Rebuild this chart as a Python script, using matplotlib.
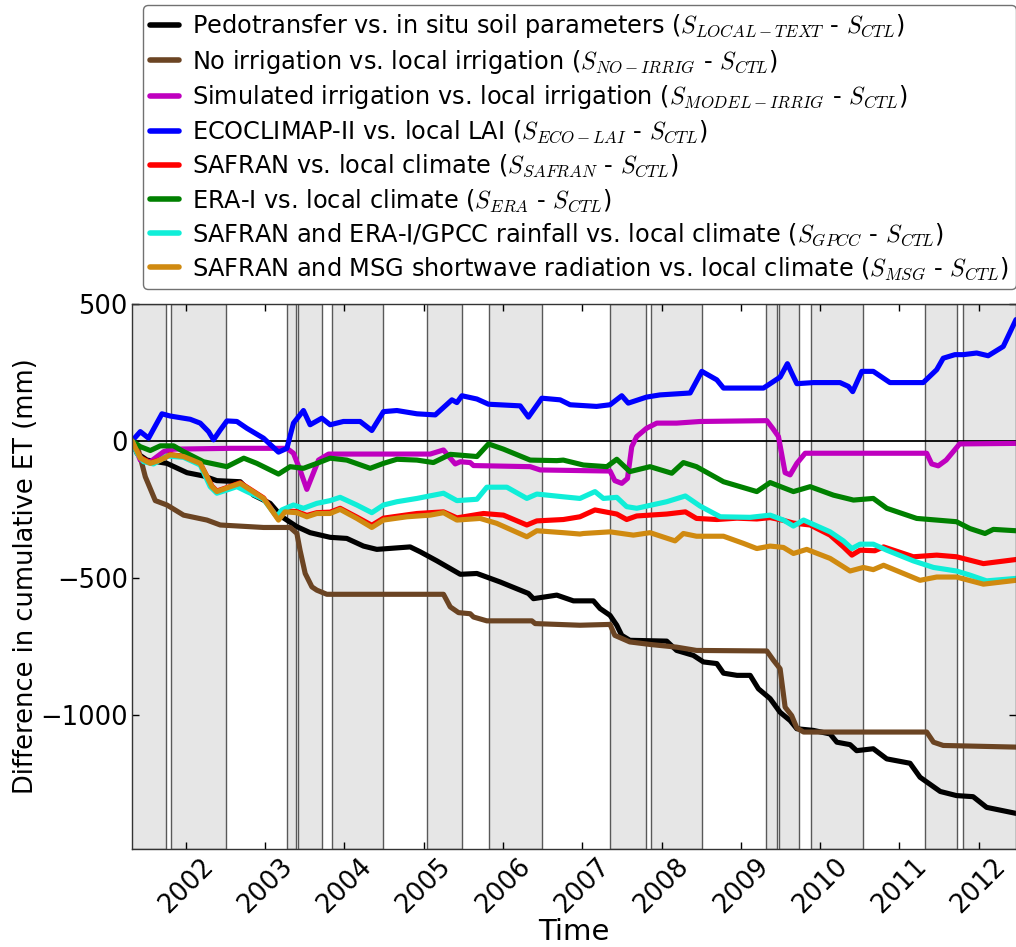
import matplotlib
matplotlib.use("Agg")
import matplotlib.pyplot as plt
import numpy as np
import pandas as pd

plt.rcParams['font.family'] = ['DejaVu Sans']
plt.rcParams['mathtext.fontset'] = 'cm'

# ---------------- data (decimal years, mm) ----------------
t_text = [2001.32, 2001.382, 2001.508, 2001.76, 2002.013, 2002.222, 2002.39, 2002.685, 2002.853, 2003.063,
          2003.21, 2003.40, 2003.567, 2003.82, 2004.03, 2004.24, 2004.408, 2004.828, 2004.955, 2005.165,
          2005.46, 2005.67, 2005.963, 2006.09, 2006.32, 2006.383, 2006.678, 2006.888, 2007.14, 2007.224,
          2007.35, 2007.435, 2007.498, 2007.60, 2008.065, 2008.19, 2008.40, 2008.527, 2008.696, 2008.78,
          2008.95, 2009.116, 2009.22, 2009.368, 2009.494, 2009.62, 2009.705, 2009.914, 2010.125, 2010.21,
          2010.377, 2010.46, 2010.67, 2010.84, 2011.134, 2011.26, 2011.515, 2011.72, 2011.93, 2012.10, 2012.47]
v_text = [0, -45, -70, -82, -116, -128, -145, -149, -198, -228,
          -277, -313, -335, -352, -356, -384, -396, -387, -405, -438,
          -487, -484, -515, -530, -557, -576, -563, -584, -584, -612,
          -637, -673, -710, -728, -731, -765, -783, -807, -813, -848,
          -856, -856, -905, -941, -991, -1021, -1051, -1057, -1070, -1100,
          -1109, -1131, -1124, -1161, -1177, -1228, -1280, -1295, -1299, -1338, -1360]

t_noirr = [2001.32, 2001.40, 2001.487, 2001.613, 2001.76, 2001.97, 2002.265, 2002.433, 2002.979, 2003.315,
           2003.40, 2003.44, 2003.505, 2003.59, 2003.652, 2003.778, 2005.248, 2005.333, 2005.438, 2005.585,
           2005.627, 2005.795, 2006.363, 2006.405, 2006.97, 2007.35, 2007.41, 2007.60, 2007.85, 2008.19,
           2008.44, 2009.326, 2009.41, 2009.494, 2009.557, 2009.64, 2009.705, 2009.79, 2011.344, 2011.43,
           2011.553, 2012.47]
v_noirr = [0, -33, -131, -218, -234, -271, -289, -307, -316, -316,
           -338, -399, -484, -533, -545, -560, -560, -606, -627, -631,
           -643, -657, -657, -667, -673, -670, -710, -734, -743, -753,
           -765, -767, -801, -832, -972, -1003, -1048, -1063, -1063, -1100,
           -1112, -1118]

t_model = [2001.32, 2001.424, 2001.55, 2001.72, 2001.844, 2002.56, 2003.274, 2003.357, 2003.44, 2003.526,
           2003.589, 2003.673, 2003.80, 2005.08, 2005.248, 2005.333, 2005.396, 2005.46, 2005.585, 2005.627,
           2006.342, 2006.468, 2007.35, 2007.41, 2007.498, 2007.57, 2007.624, 2007.687, 2007.81, 2007.94,
           2008.19, 2008.486, 2009.326, 2009.40, 2009.473, 2009.557, 2009.62, 2009.705, 2009.81, 2011.344,
           2011.407, 2011.49, 2011.59, 2011.76, 2012.47]
v_model = [0, -70, -76, -39, -30, -27, -27, -45, -106, -177,
           -131, -70, -48, -48, -33, -63, -84, -76, -79, -90,
           -94, -106, -110, -145, -155, -137, -21, 16, 46, 65,
           65, 71, 74, 46, 16, -116, -124, -82, -45, -45,
           -84, -91, -70, -11, -9]

t_lai = [2001.32, 2001.424, 2001.528, 2001.697, 2001.80, 2002.054, 2002.18, 2002.285, 2002.348, 2002.433,
         2002.517, 2002.643, 2002.77, 2002.979, 2003.168, 2003.274, 2003.357, 2003.483, 2003.567, 2003.715,
         2003.82, 2003.987, 2004.198, 2004.345, 2004.492, 2004.661, 2004.913, 2005.144, 2005.354, 2005.417,
         2005.48, 2005.67, 2005.816, 2006.216, 2006.32, 2006.489, 2006.72, 2006.846, 2007.18, 2007.35,
         2007.498, 2007.58, 2007.81, 2007.98, 2008.36, 2008.507, 2008.696, 2008.78, 2009.284, 2009.494,
         2009.586, 2009.64, 2009.705, 2009.914, 2010.25, 2010.356, 2010.41, 2010.525, 2010.67, 2010.88,
         2011.30, 2011.47, 2011.553, 2011.70, 2011.805, 2011.975, 2012.12, 2012.31, 2012.39, 2012.47]
v_lai = [0, 34, 10, 99, 91, 79, 65, 34, 4, 40,
         73, 71, 46, 10, -41, -27, 65, 111, 59, 83,
         59, 71, 71, 38, 107, 111, 99, 95, 150, 140,
         165, 153, 134, 128, 87, 156, 150, 132, 126, 132,
         165, 138, 160, 168, 175, 254, 223, 193, 193, 233,
         282, 248, 209, 213, 213, 199, 180, 254, 254, 213,
         213, 260, 302, 315, 315, 321, 311, 345, 394, 443]

t_safran = [2001.32, 2001.424, 2001.55, 2001.676, 2001.80, 2001.97, 2002.18, 2002.328, 2002.39, 2002.56,
            2002.685, 2002.979, 2003.168, 2003.25, 2003.40, 2003.526, 2003.652, 2003.82, 2003.946, 2004.156,
            2004.345, 2004.492, 2004.787, 2004.913, 2005.248, 2005.417, 2005.753, 2006.005, 2006.30, 2006.426,
            2006.76, 2006.97, 2007.16, 2007.435, 2007.56, 2007.687, 2008.065, 2008.30, 2008.44, 2008.696,
            2008.95, 2009.2, 2009.368, 2009.536, 2009.662, 2009.873, 2010.125, 2010.293, 2010.40, 2010.503,
            2010.69, 2010.80, 2011.175, 2011.47, 2011.72, 2012.06, 2012.47]
v_safran = [0, -60, -80, -68, -50, -56, -82, -165, -183, -166,
            -153, -208, -285, -256, -258, -272, -262, -260, -246, -278,
            -308, -282, -270, -265, -259, -281, -265, -271, -307, -292,
            -287, -277, -252, -267, -287, -274, -267, -259, -283, -287,
            -282, -285, -280, -290, -300, -307, -344, -387, -417, -399,
            -401, -387, -423, -417, -423, -448, -433]

t_era = [2001.32, 2001.424, 2001.55, 2001.676, 2001.844, 2001.97, 2002.222, 2002.517, 2002.73, 2002.895,
         2003.168, 2003.315, 2003.483, 2003.652, 2003.82, 2004.03, 2004.324, 2004.492, 2004.661, 2004.913,
         2005.12, 2005.333, 2005.67, 2005.816, 2006.005, 2006.342, 2006.678, 2006.76, 2007.014, 2007.31,
         2007.435, 2007.60, 2007.855, 2008.129, 2008.275, 2008.44, 2008.78, 2009.2, 2009.368, 2009.662,
         2009.873, 2010.167, 2010.42, 2010.67, 2010.84, 2011.218, 2011.47, 2011.72, 2011.89, 2012.08,
         2012.185, 2012.47]
v_era = [0, -21, -35, -18, -18, -39, -76, -94, -63, -82,
         -121, -94, -100, -82, -63, -70, -100, -82, -67, -70,
         -79, -49, -57, -11, -30, -70, -72, -70, -88, -94,
         -67, -112, -94, -118, -79, -94, -149, -185, -152, -185,
         -167, -198, -216, -210, -246, -283, -289, -295, -320, -338,
         -323, -328]

t_gpcc = [2001.32, 2001.382, 2001.466, 2001.59, 2001.76, 2001.97, 2002.18, 2002.306, 2002.39, 2002.517,
          2002.643, 2002.77, 2002.979, 2003.147, 2003.21, 2003.357, 2003.483, 2003.652, 2003.82, 2003.946,
          2004.156, 2004.345, 2004.492, 2004.661, 2004.913, 2005.248, 2005.417, 2005.67, 2005.795, 2006.048,
          2006.30, 2006.426, 2006.76, 2006.97, 2007.16, 2007.266, 2007.435, 2007.56, 2007.687, 2008.065,
          2008.30, 2008.486, 2008.74, 2009.116, 2009.368, 2009.536, 2009.662, 2009.79, 2010.125, 2010.293,
          2010.40, 2010.503, 2010.67, 2010.84, 2011.175, 2011.43, 2011.72, 2011.89, 2012.10, 2012.47]
v_gpcc = [0, -45, -76, -84, -55, -60, -88, -167, -191, -179,
          -167, -185, -213, -277, -252, -234, -246, -228, -218, -206,
          -234, -262, -234, -222, -210, -191, -218, -213, -169, -169,
          -210, -194, -204, -210, -185, -210, -206, -240, -246, -222,
          -201, -238, -277, -279, -271, -289, -311, -289, -332, -365,
          -393, -377, -377, -399, -438, -462, -475, -490, -511, -502]

t_msg = [2001.32, 2001.424, 2001.55, 2001.676, 2001.80, 2001.97, 2002.18, 2002.328, 2002.39, 2002.56,
         2002.685, 2002.979, 2003.168, 2003.25, 2003.40, 2003.526, 2003.652, 2003.82, 2003.946, 2004.156,
         2004.345, 2004.492, 2004.787, 2005.08, 2005.248, 2005.417, 2005.71, 2005.92, 2006.30, 2006.426,
         2006.76, 2006.97, 2007.014, 2007.35, 2007.645, 2007.855, 2008.17, 2008.275, 2008.44, 2008.78,
         2009.03, 2009.20, 2009.368, 2009.536, 2009.662, 2009.83, 2010.125, 2010.377, 2010.545, 2010.67,
         2010.80, 2011.26, 2011.47, 2011.72, 2012.06, 2012.47]
v_msg = [0, -63, -82, -70, -51, -57, -82, -167, -185, -167,
         -155, -210, -289, -259, -262, -277, -265, -265, -250, -283,
         -316, -289, -277, -271, -262, -289, -283, -301, -350, -328,
         -335, -340, -338, -332, -344, -335, -365, -338, -348, -348,
         -374, -393, -384, -389, -411, -396, -429, -475, -462, -470,
         -454, -509, -497, -497, -523, -509]

# growing-season shading (decimal years)
span_start = [2001.20, 2001.806, 2003.281, 2003.420, 2003.849, 2005.039, 2005.825, 2007.354, 2007.871,
              2009.314, 2009.486, 2009.889, 2011.319, 2011.806]
span_end = [2001.748, 2002.504, 2003.395, 2003.723, 2004.492, 2005.480, 2006.497, 2007.801, 2008.507,
            2009.460, 2009.730, 2010.537, 2011.730, 2012.60]

labels = [
    r'Pedotransfer vs. in situ soil parameters ($S_{LOCAL-TEXT}$ - $S_{CTL}$)',
    r'No irrigation vs. local irrigation ($S_{NO-IRRIG}$ - $S_{CTL}$)',
    r'Simulated irrigation vs. local irrigation ($S_{MODEL-IRRIG}$ - $S_{CTL}$)',
    r'ECOCLIMAP-II vs. local LAI ($S_{ECO-LAI}$ - $S_{CTL}$)',
    r'SAFRAN vs. local climate ($S_{SAFRAN}$ - $S_{CTL}$)',
    r'ERA-I vs. local climate ($S_{ERA}$ - $S_{CTL}$)',
    r'SAFRAN and ERA-I/GPCC rainfall vs. local climate ($S_{GPCC}$ - $S_{CTL}$)',
    r'SAFRAN and MSG shortwave radiation vs. local climate ($S_{MSG}$ - $S_{CTL}$)',
]
colors = ['#000000', '#6b4423', '#bf00bf', '#0000ff', '#ff0000', '#008000', '#10eed8', '#d08a10']
x_range = [2001.32, 2012.47]
y_range = [-1490, 500]
y_ticks = [-1000, -500, 0, 500]
year_ticks = list(range(2002, 2013))


def to_date(dy):
    dy = np.atleast_1d(np.asarray(dy, dtype=float))
    out = []
    for d in dy:
        y = int(np.floor(d))
        start = pd.Timestamp(year=y, month=1, day=1)
        end = pd.Timestamp(year=y + 1, month=1, day=1)
        out.append(start + (end - start) * (d - y))
    return pd.DatetimeIndex(out)


series = [(t_text, v_text), (t_noirr, v_noirr), (t_model, v_model), (t_lai, v_lai),
          (t_safran, v_safran), (t_era, v_era), (t_gpcc, v_gpcc), (t_msg, v_msg)]

fig = plt.figure(figsize=(10.16, 9.47), dpi=100)
ax = fig.add_axes([0.130, 0.1035, 0.870, 0.5755])

for a, b in zip(span_start, span_end):
    da, db = to_date([a, b])
    ax.axvspan(da, db, facecolor='0.9', edgecolor='0.35', linewidth=1.0, zorder=0)

ax.axhline(0, color='black', linewidth=1.3, zorder=1)

handles = []
for (t, v), c, lab in zip(series, colors, labels):
    h, = ax.plot(to_date(t), v, color=c, linewidth=3.7, label=lab, zorder=2,
                 solid_joinstyle='round', solid_capstyle='round')
    handles.append(h)

ax.set_xlim(to_date(x_range))
ax.set_ylim(y_range)
ax.set_yticks(y_ticks)
ax.set_xticks(to_date(year_ticks))
ax.set_xticklabels([str(y) for y in year_ticks], rotation=45)
ax.tick_params(direction='in', top=True, right=True, labelsize=18.5, length=5, width=1, pad=3)
for s in ax.spines.values():
    s.set_color('0.2')
    s.set_linewidth(1)

ax.set_xlabel('Time', fontsize=21, labelpad=0)
ax.set_ylabel('Difference in cumulative ET (mm)', fontsize=18.5, labelpad=1)

leg = fig.legend(handles=handles, loc='upper right', bbox_to_anchor=(1.0, 0.995),
                 fontsize=17.3, handlelength=1.2, handletextpad=0.55, labelspacing=0.32,
                 borderpad=0.3, frameon=True, fancybox=True, borderaxespad=0.0)
leg.get_frame().set_edgecolor('0.3')
leg.get_frame().set_linewidth(1.0)
for ln in leg.get_lines():
    ln.set_linewidth(4)

fig.savefig('out.png', dpi=100)
